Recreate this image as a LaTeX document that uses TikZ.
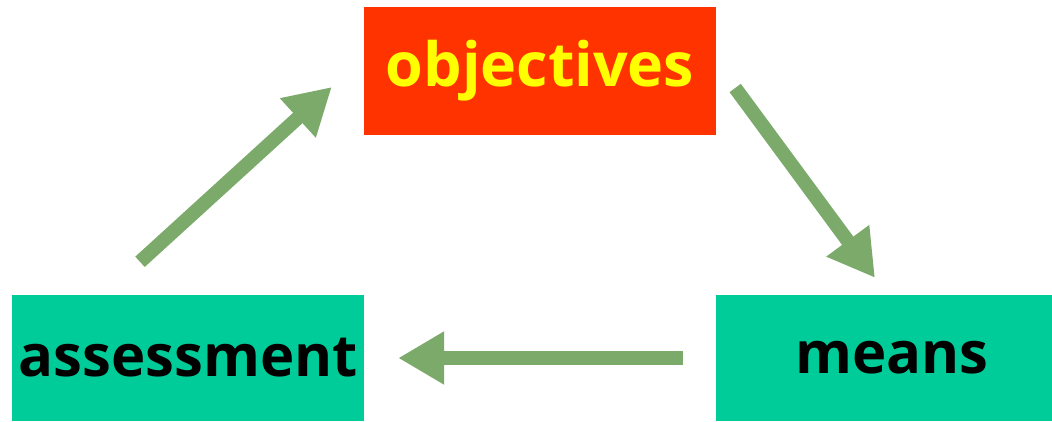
\documentclass[tikz,border=0pt]{standalone}
\usepackage{fontspec}
\setmainfont{Open Sans}
\usetikzlibrary{arrows.meta, positioning, calc}

\definecolor{goalred}{HTML}{FF3300}
\definecolor{goalyellow}{HTML}{FFFF00}
\definecolor{stepgreen}{HTML}{00CC99}
\definecolor{arrowgreen}{HTML}{7BAA6B}

\tikzset{
  goalbox/.style={rectangle, inner sep=0pt, fill=goalred, text=goalyellow, minimum width=352pt, minimum height=128pt, font=\fontsize{61}{66}\selectfont\bfseries},
  partbox/.style={rectangle, inner sep=0pt, fill=stepgreen, text=black, minimum height=126pt, font=\fontsize{58}{66}\selectfont\bfseries},
  cyclearrow/.style={draw=arrowgreen, line width=14pt, -{Triangle[length=46pt, width=50pt]}}
}

\begin{document}
\begin{tikzpicture}[x=1pt, y=-1pt]
  \useasboundingbox (0,0) rectangle (1052,421);

  % Boxes
  \node[goalbox]                          (objectives) at (540,71)  {objectives};
  \node[partbox, minimum width=352pt]     (assessment) at (188,358) {assessment};
  \node[partbox, minimum width=336pt]     (means)      at (884,358) {\hspace{16pt}means};

  % Arrows round the cycle
  \coordinate (upstart) at ($(assessment.north)+(-48,-33)$);
  \coordinate (upend)   at ($(objectives.west)+(-32,16)$);
  \coordinate (downstart) at ($(objectives.east)+(19,17)$);
  \coordinate (downend)   at ($(means.north)+(-9,-17)$);
  \coordinate (backstart) at ($(means.west)+(-33,0)$);
  \coordinate (backend)   at ($(assessment.east)+(34,0)$);

  \draw[cyclearrow] (upstart) -- (upend);
  \draw[cyclearrow] (downstart) -- (downend);
  \draw[cyclearrow] (backstart) -- (backend);
\end{tikzpicture}
\end{document}
